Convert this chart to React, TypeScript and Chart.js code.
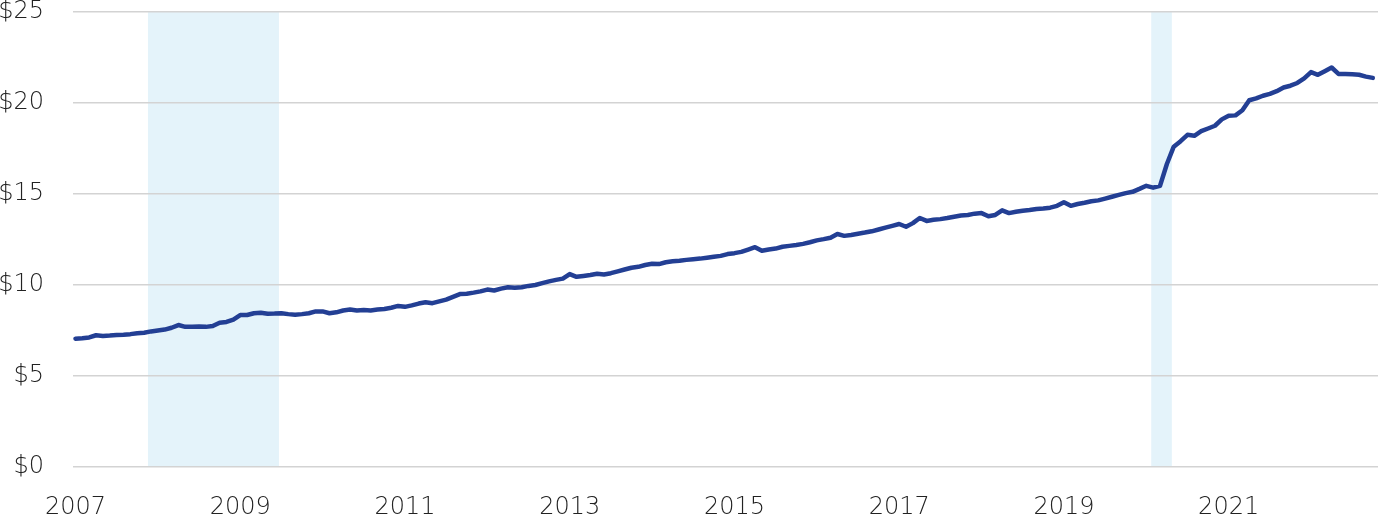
import React, { useEffect, useRef } from "react";
import { Chart, registerables } from "chart.js";

Chart.register(...registerables);

// Monthly series, Jan 2007 .. Oct 2022 (dollars)
const startYear = 2007;
const values: number[] = [
  // 2007
  7.05, 7.08, 7.12, 7.24, 7.2, 7.22, 7.25, 7.27, 7.3, 7.35, 7.38, 7.45,
  // 2008
  7.5, 7.55, 7.65, 7.8, 7.7, 7.7, 7.72, 7.7, 7.75, 7.93, 7.97, 8.1,
  // 2009
  8.35, 8.35, 8.45, 8.48, 8.42, 8.43, 8.45, 8.4, 8.37, 8.4, 8.45, 8.55,
  // 2010
  8.55, 8.45, 8.5, 8.6, 8.65, 8.6, 8.62, 8.6, 8.65, 8.68, 8.75, 8.85,
  // 2011
  8.8, 8.88, 8.98, 9.05, 9.0, 9.1, 9.2, 9.35, 9.5, 9.52, 9.58, 9.65,
  // 2012
  9.75, 9.7, 9.8, 9.88, 9.85, 9.88, 9.95, 10.0, 10.1, 10.2, 10.28, 10.35,
  // 2013
  10.6, 10.45, 10.5, 10.55, 10.62, 10.58, 10.65, 10.75, 10.85, 10.95, 11.0, 11.1,
  // 2014
  11.17, 11.15, 11.25, 11.3, 11.33, 11.38, 11.42, 11.45, 11.5, 11.55, 11.6, 11.7,
  // 2015
  11.75, 11.82, 11.95, 12.08, 11.88, 11.95, 12.0, 12.1, 12.15, 12.2, 12.26, 12.35,
  // 2016
  12.45, 12.52, 12.6, 12.8, 12.7, 12.75, 12.82, 12.88, 12.95, 13.05, 13.15, 13.25,
  // 2017
  13.35, 13.2, 13.4, 13.68, 13.52, 13.58, 13.62, 13.68, 13.75, 13.82, 13.85, 13.92,
  // 2018
  13.95, 13.78, 13.85, 14.1, 13.95, 14.02, 14.08, 14.12, 14.18, 14.2, 14.25, 14.35,
  // 2019
  14.55, 14.35, 14.45, 14.52, 14.6, 14.65, 14.75, 14.85, 14.95, 15.05, 15.12, 15.28,
  // 2020
  15.45, 15.35, 15.45, 16.65, 17.6, 17.9, 18.25, 18.2, 18.45, 18.6, 18.75, 19.1,
  // 2021
  19.3, 19.32, 19.6, 20.15, 20.25, 20.4, 20.5, 20.65, 20.85, 20.95, 21.1, 21.35,
  // 2022
  21.7, 21.55, 21.75, 21.95, 21.6, 21.6, 21.58, 21.55, 21.45, 21.38,
];

const xTickYears: number[] = [2007, 2009, 2011, 2013, 2015, 2017, 2019, 2021];
const yTicks: number[] = [0, 5, 10, 15, 20, 25];
const recessionStarts: number[] = [2007.88, 2020.06];
const recessionEnds: number[] = [2009.47, 2020.31];

const xMin = 2006.97;
const xMax = 2022.813;

const shadePlugin = {
  id: "recessionShade",
  beforeDraw(chart: any) {
    const { ctx, chartArea, scales } = chart;
    const xs = scales.x;
    ctx.save();
    ctx.fillStyle = "#e4f3fa";
    for (let i = 0; i < recessionStarts.length; i++) {
      const x0 = xs.getPixelForValue(recessionStarts[i]);
      const x1 = xs.getPixelForValue(recessionEnds[i]);
      ctx.fillRect(x0, chartArea.top, x1 - x0, chartArea.bottom - chartArea.top);
    }
    ctx.restore();
  },
};

export default function App() {
  const ref = useRef<HTMLCanvasElement | null>(null);

  useEffect(() => {
    document.body.style.margin = "0";
    if (!ref.current) return;
    const points = values.map((v, i) => ({ x: startYear + i / 12, y: v }));
    const font = { family: "'DejaVu Sans', sans-serif", size: 24, weight: 300 as any, lineHeight: 1 };
    const chart = new Chart(ref.current, {
      type: "line",
      data: {
        datasets: [
          {
            data: points,
            borderColor: "#233f94",
            borderWidth: 4.5,
            pointRadius: 0,
            tension: 0,
            borderJoinStyle: "round",
            borderCapStyle: "round",
          },
        ],
      },
      options: {
        animation: false,
        responsive: false,
        layout: { padding: 0 },
        plugins: { legend: { display: false }, tooltip: { enabled: false } },
        scales: {
          x: {
            type: "linear",
            min: xMin,
            max: xMax,
            grid: { display: false },
            border: { display: false },
            afterBuildTicks: (scale: any) => {
              scale.ticks = xTickYears.map((v) => ({ value: v }));
            },
            afterFit: (scale: any) => {
              scale.height = 47;
              scale.paddingLeft = 0;
              scale.paddingRight = 0;
            },
            ticks: {
              autoSkip: false,
              maxRotation: 0,
              padding: 21,
              color: "#222",
              font,
              callback: (v: any) => String(v),
            },
          },
          y: {
            min: 0,
            max: 25,
            afterBuildTicks: (scale: any) => {
              scale.ticks = yTicks.map((v) => ({ value: v }));
            },
            afterFit: (scale: any) => {
              scale.width = 73;
              scale.paddingTop = 12;
              scale.paddingBottom = 0;
            },
            grid: { color: "#d3d3d3", lineWidth: 1.5, drawTicks: false },
            border: { display: false },
            ticks: {
              padding: 29,
              color: "#222",
              font,
              callback: (v: any) => "$" + v,
            },
          },
        },
      },
      plugins: [shadePlugin],
    });
    return () => chart.destroy();
  }, []);

  return (
    <div style={{ width: 1378, height: 514 }}>
      <canvas ref={ref} width={1378} height={514} />
    </div>
  );
}
